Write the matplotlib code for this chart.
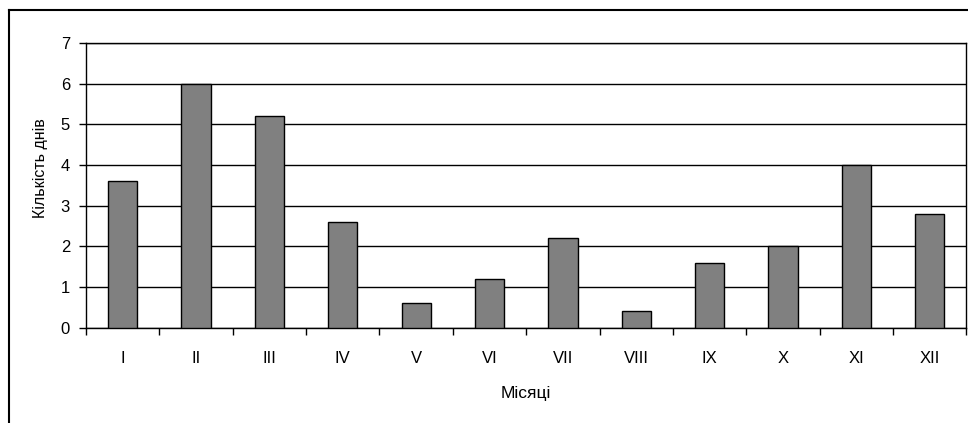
import matplotlib
matplotlib.use("Agg")
import matplotlib.pyplot as plt
from matplotlib.lines import Line2D

months = ["I", "II", "III", "IV", "V", "VI", "VII", "VIII", "IX", "X", "XI", "XII"]
days = [3.6, 6.0, 5.2, 2.6, 0.6, 1.2, 2.2, 0.4, 1.6, 2.0, 4.0, 2.8]
y_ticks = [0, 1, 2, 3, 4, 5, 6, 7]

plt.rcParams["font.family"] = ["Liberation Sans", "DejaVu Sans"]

W, H = 968, 423
fig = plt.figure(figsize=(W / 100, H / 100), dpi=100)

# chart frame (open at right and bottom)
fig.add_artist(Line2D([9 / W, 9 / W], [0, 1 - 10 / H], transform=fig.transFigure,
                      color="black", lw=1.5))
fig.add_artist(Line2D([9 / W, 1], [1 - 10 / H, 1 - 10 / H], transform=fig.transFigure,
                      color="black", lw=1.5))

left, right, top, bottom = 86, 966.5, 43, 327.7
ax = fig.add_axes([left / W, 1 - bottom / H, (right - left) / W, (bottom - top) / H])

x = list(range(len(months)))
ax.bar(x, days, width=0.4, color="#808080", edgecolor="black", linewidth=1.0, zorder=3)

ax.set_xlim(-0.5, len(months) - 0.5)
ax.set_ylim(0, 7)
ax.set_yticks(y_ticks)
ax.yaxis.grid(True, color="black", linewidth=1.0, zorder=0)
ax.set_axisbelow(True)

ax.set_xticks(x)
ax.set_xticklabels(months, fontsize=12)
ax.set_xticks([i - 0.5 for i in range(len(months) + 1)], minor=True)
ax.tick_params(axis="x", which="major", length=0, pad=17)
ax.tick_params(axis="x", which="minor", length=5, width=1, direction="out")
ax.tick_params(axis="y", length=5, width=1, direction="out", labelsize=12, pad=6.5)

for s in ax.spines.values():
    s.set_color("black")
    s.set_linewidth(1.0)

# axis titles placed in pixel coordinates of the figure
fig.text(526 / W, 1 - 393 / H, "Місяці", fontsize=12.5, ha="center", va="center")
fig.text(40 / W, 1 - 168 / H, "Кількість днів", fontsize=11.5, rotation=90,
         ha="center", va="center")

fig.savefig("out.png", dpi=100)
